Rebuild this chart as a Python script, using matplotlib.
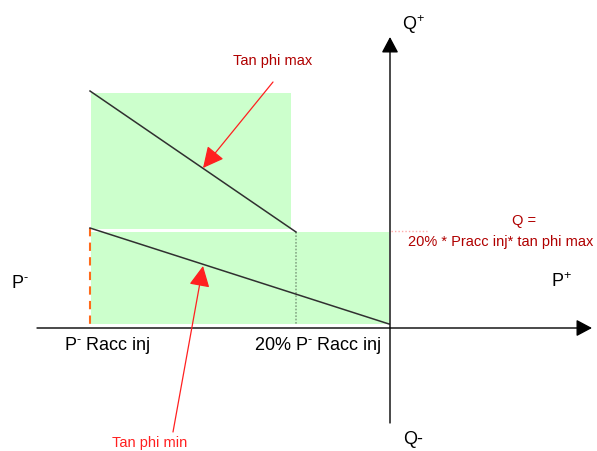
import matplotlib
matplotlib.use('Agg')
import matplotlib.pyplot as plt
from matplotlib.patches import Rectangle

plt.rcParams['font.family'] = ['Liberation Sans', 'DejaVu Sans']
plt.rcParams['mathtext.fontset'] = 'custom'
plt.rcParams['mathtext.rm'] = 'Liberation Sans'
plt.rcParams['mathtext.it'] = 'Liberation Sans'

# diagram coordinates: origin where the P and Q axes cross (schematic, not to scale)
p_axis = [-353, 202]
q_axis = [-95, 291]

p_racc = -300          # P- Racc inj
p_20 = -94             # 20% P- Racc inj
q_20 = 97              # Q = 20% * Pracc inj * tan phi max

# green zones: (x0, x1, y0, y1)
zone_hi = (-299, -99, 99, 235)
zone_lo = (-299, -1, 4, 96)

# tan phi lines
phi_max_x = [p_racc, p_20]
phi_max_y = [237, 96]
phi_min_x = [p_racc, -1]
phi_min_y = [100, 4]

GREEN = '#ccffcc'
DARKRED = '#b00000'
RED = '#ff2020'
SUP_MINUS = '\u2010'   # short dash used as superscript minus

fig = plt.figure(figsize=(5.97, 4.51), dpi=100)
ax = fig.add_axes([0, 0, 1, 1])
ax.set_xlim(-390, 207)
ax.set_ylim(-123, 328)
ax.axis('off')

for x0, x1, y0, y1 in (zone_hi, zone_lo):
    ax.add_patch(Rectangle((x0, y0), x1 - x0, y1 - y0, color=GREEN, lw=0, zorder=1))

ax.plot(phi_max_x, phi_max_y, color='#303030', lw=1.1, zorder=3)
ax.plot(phi_min_x, phi_min_y, color='#303030', lw=1.1, zorder=3)

# guide lines
ax.plot([p_20, p_20], [phi_max_y[1], zone_lo[2]], color='#88aa88', lw=1.2, ls=(0, (1, 1)), zorder=2)
ax.plot([p_racc, p_racc], [phi_min_y[0], zone_lo[2]], color='#ff6a1a', lw=1.5, ls=(0, (4, 3)), zorder=2)
ax.plot([1, 37], [q_20, q_20], color='#ffaaaa', lw=1, ls=(0, (1, 1.5)), zorder=2)

# axes with arrow heads
axis_arrow = dict(arrowstyle='-|>,head_length=0.6,head_width=0.32', color='black',
                  lw=1, mutation_scale=16, shrinkA=0, shrinkB=0)
ax.annotate('', xy=(p_axis[1], 0), xytext=(p_axis[0], 0), arrowprops=axis_arrow, zorder=4)
ax.annotate('', xy=(0, q_axis[1]), xytext=(0, q_axis[0]), arrowprops=axis_arrow, zorder=4)

# red pointers
red_arrow = dict(arrowstyle='-|>,head_length=0.8,head_width=0.4', color=RED,
                 lw=0.9, mutation_scale=16, shrinkA=0, shrinkB=0)
ax.annotate('', xy=(-187, 160), xytext=(-117, 246), arrowprops=red_arrow, zorder=5)
ax.annotate('', xy=(-187, 62), xytext=(-217, -104), arrowprops=red_arrow, zorder=5)

# labels
big = dict(fontsize=13, color='black', ha='center', va='center')
ax.text(-370, 45, 'P$^{' + SUP_MINUS + '}$', **big)
ax.text(171, 46, r'P$^{+}$', **big)
ax.text(23, 303, r'Q$^{+}$', **big)
ax.text(23, -112, 'Q-', **big)
ax.text(-283, -18, 'P$^{' + SUP_MINUS + '}$ Racc inj', **big)
ax.text(-72, -18, '20% P$^{' + SUP_MINUS + '}$ Racc inj', **big)

ax.text(-117, 267, 'Tan phi max', fontsize=10.5, color=DARKRED, ha='center', va='center')
ax.text(134, 107, 'Q =', fontsize=10.5, color=DARKRED, ha='center', va='center')
ax.text(111, 86, '20% * Pracc inj* tan phi max', fontsize=10.5, color=DARKRED,
        ha='center', va='center')
ax.text(-240, -115, 'Tan phi min', fontsize=10.5, color=RED, ha='center', va='center')

fig.savefig('out.png', dpi=100)
